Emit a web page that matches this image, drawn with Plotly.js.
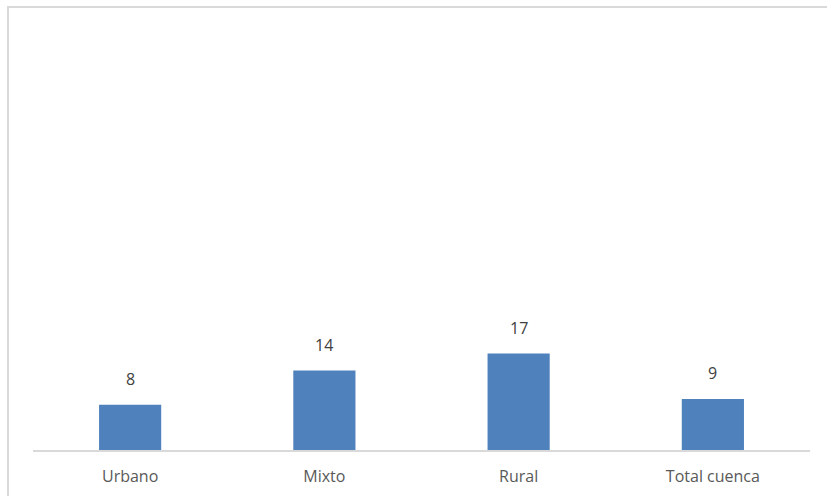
<!DOCTYPE html>
<html>
<head>
<meta charset="utf-8">
<script src="https://cdn.plot.ly/plotly-3.0.1.min.js"></script>
<style>
html,body{margin:0;padding:0;background:#fff;}
#frame{position:absolute;left:7px;top:6px;width:820px;height:490px;border-left:2px solid #d9d9d9;border-top:2px solid #d9d9d9;}
#chart{position:absolute;left:0;top:0;width:827px;height:496px;}
</style>
</head>
<body>
<div id="frame"></div>
<div id="chart"></div>
<script>
const categories = ["Urbano", "Mixto", "Rural", "Total cuenca"];
const values = [8, 14, 17, 9];
const valueLabels = ["8", "14", "17", "9"];

const trace = {
  type: "bar",
  x: categories,
  y: values,
  width: 0.32,
  marker: {color: "#4F81BD", line: {width: 0}},
  hoverinfo: "none"
};

const annotations = categories.map((c, i) => ({
  x: c, y: values[i], xref: "x", yref: "y",
  text: valueLabels[i], showarrow: false,
  yanchor: "bottom", yshift: 13,
  font: {family: "'Open Sans', sans-serif", size: 16, color: "#404040"}
}));

const layout = {
  width: 827, height: 496,
  margin: {l: 33, r: 17, t: 53, b: 46},
  paper_bgcolor: "rgba(0,0,0,0)",
  plot_bgcolor: "rgba(0,0,0,0)",
  showlegend: false,
  xaxis: {
    type: "category",
    showline: true, linecolor: "#d9d9d9", linewidth: 1.5,
    ticks: "", showgrid: false, zeroline: false,
    ticklabelstandoff: 11,
    tickfont: {family: "'Open Sans', sans-serif", size: 16, color: "#595959"}
  },
  yaxis: {
    range: [0, 70], visible: false, showgrid: false, zeroline: false
  },
  annotations: annotations
};

Plotly.newPlot("chart", [trace], layout, {displayModeBar: false, staticPlot: true});
</script>
</body>
</html>
